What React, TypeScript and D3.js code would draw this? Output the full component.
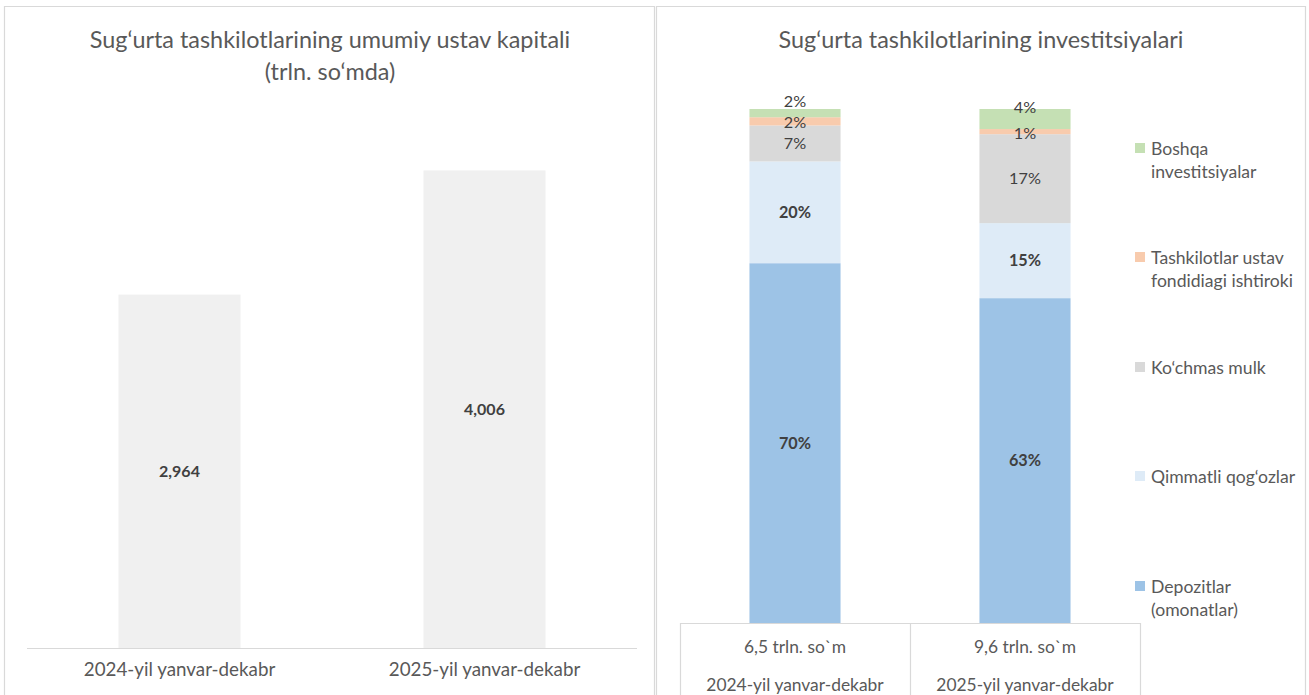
import React from "react";
import * as d3 from "d3";

const capCategories = ["2024-yil yanvar-dekabr", "2025-yil yanvar-dekabr"];
const capValues = [2.964, 4.006];
const capLabels = ["2,964", "4,006"];

const invCategories = ["2024-yil yanvar-dekabr", "2025-yil yanvar-dekabr"];
const invTotals = ["6,5 trln. so`m", "9,6 trln. so`m"];
const invSeries = [
  "Depozitlar (omonatlar)",
  "Qimmatli qog‘ozlar",
  "Ko‘chmas mulk",
  "Tashkilotlar ustav fondidiagi ishtiroki",
  "Boshqa investitsiyalar",
];
const depozitlar = [70.0, 63.2];
const qimmatli = [19.8, 14.6];
const kochmas = [7.0, 17.3];
const tashkilotlar = [1.6, 1.0];
const boshqa = [1.6, 3.9];
const invLabels = [
  ["70%", "63%"],
  ["20%", "15%"],
  ["7%", "17%"],
  ["2%", "1%"],
  ["2%", "4%"],
];
const legendLines = [
  ["Depozitlar", "(omonatlar)"],
  ["Qimmatli qog‘ozlar"],
  ["Ko‘chmas mulk"],
  ["Tashkilotlar ustav", "fondidiagi ishtiroki"],
  ["Boshqa", "investitsiyalar"],
];

const colors = ["#9dc3e6", "#deebf7", "#d9d9d9", "#f8cbad", "#c5e0b4"];
const boldSeries = [true, true, false, false, false];
const FONT = "Lato, 'Open Sans', sans-serif";
const TXT = "#595959";
const DARK = "#404040";
const BORDER = "#d9d9d9";

export default function App() {
  // Left chart
  const xL = d3.scaleBand<string>().domain(capCategories).range([27, 637]).paddingInner(0.6).paddingOuter(0.3);
  const yL = d3.scaleLinear().domain([0, 4.5]).range([648, 111.5]);

  // Right chart
  const xR = d3.scaleBand<string>().domain(invCategories).range([680, 1140]).paddingInner(0.604).paddingOuter(0.302);
  const yR = d3.scaleLinear().domain([0, 100]).range([623, 109]);
  const seriesVals = [depozitlar, qimmatli, kochmas, tashkilotlar, boshqa];
  const table = invCategories.map((c, i) => {
    const row: any = { cat: c };
    invSeries.forEach((s, j) => (row[s] = seriesVals[j][i]));
    return row;
  });
  const stacked = d3.stack<any>().keys(invSeries)(table);
  // label nudges for small top segments (series index, category index) -> dy
  const nudge = (s: number, c: number) => {
    if (s === 4) return -12;
    if (s === 3 && c === 0) return 1;
    if (s === 3 && c === 1) return 1.5;
    return 0;
  };
  const legendY = [587, 477, 368, 258, 149];

  return (
    <svg width={1309} height={695} style={{ position: "absolute", left: 0, top: 0, display: "block" }} fontFamily={FONT}>
      <rect x={0} y={0} width={1309} height={695} fill="#ffffff" />
      {/* panels */}
      <path d="M4.5,700 V6.5 H654.5 V700" fill="none" stroke={BORDER} strokeWidth={1.2} />
      <path d="M656.5,700 V6.5 H1305.5 V700" fill="none" stroke={BORDER} strokeWidth={1.2} />

      {/* Left chart */}
      <text x={330} y={48} textAnchor="middle" fontSize={23.4} fill={TXT}>Sug‘urta tashkilotlarining umumiy ustav kapitali</text>
      <text x={330} y={80} textAnchor="middle" fontSize={23.4} fill={TXT}>(trln. so‘mda)</text>
      {capCategories.map((c, i) => (
        <g key={c}>
          <rect x={xL(c)} y={yL(capValues[i])} width={xL.bandwidth()} height={yL(0) - yL(capValues[i])} fill="#f0f0f0" />
          <text x={xL(c)! + xL.bandwidth() / 2} y={(yL(capValues[i]) + yL(0)) / 2} dy="0.35em" textAnchor="middle" fontSize={16} fontWeight="bold" fill={DARK}>{capLabels[i]}</text>
          <text x={xL(c)! + xL.bandwidth() / 2} y={676} textAnchor="middle" fontSize={18.8} fill={TXT}>{c}</text>
        </g>
      ))}
      <line x1={27} x2={637} y1={648.5} y2={648.5} stroke={BORDER} strokeWidth={1.2} />

      {/* Right chart */}
      <text x={981} y={48} textAnchor="middle" fontSize={23.4} fill={TXT}>Sug‘urta tashkilotlarining investitsiyalari</text>
      {stacked.map((layer, si) => (
        <g key={invSeries[si]}>
          {layer.map((d, ci) => (
            <rect key={ci} x={xR(invCategories[ci])} y={yR(d[1])} width={xR.bandwidth()} height={yR(d[0]) - yR(d[1])} fill={colors[si]} />
          ))}
        </g>
      ))}
      {stacked.map((layer, si) => (
        <g key={"l" + si}>
          {layer.map((d, ci) => (
            <text key={ci} x={xR(invCategories[ci])! + xR.bandwidth() / 2} y={(yR(d[0]) + yR(d[1])) / 2 + nudge(si, ci)} dy="0.35em" textAnchor="middle" fontSize={16.2} fontWeight={boldSeries[si] ? "bold" : "normal"} fill={DARK}>{invLabels[si][ci]}</text>
          ))}
        </g>
      ))}
      {/* category table */}
      <path d="M680.5,700 V623.5 H1140.5 V700 M910.5,623.5 V700" fill="none" stroke={BORDER} strokeWidth={1.2} />
      {invCategories.map((c, i) => (
        <g key={c}>
          <text x={xR(c)! + xR.bandwidth() / 2} y={653} textAnchor="middle" fontSize={17.4} fill={TXT}>{invTotals[i]}</text>
          <text x={xR(c)! + xR.bandwidth() / 2} y={691} textAnchor="middle" fontSize={17.4} fill={TXT}>{c}</text>
        </g>
      ))}
      {/* legend */}
      {invSeries.map((s, i) => (
        <g key={s}>
          <rect x={1135} y={legendY[i] - 6} width={10} height={10} fill={colors[i]} />
          {legendLines[i].map((ln, k) => (
            <text key={k} x={1151} y={legendY[i] + k * 23} dy="0.35em" fontSize={17.6} fill={TXT}>{ln}</text>
          ))}
        </g>
      ))}
    </svg>
  );
}
